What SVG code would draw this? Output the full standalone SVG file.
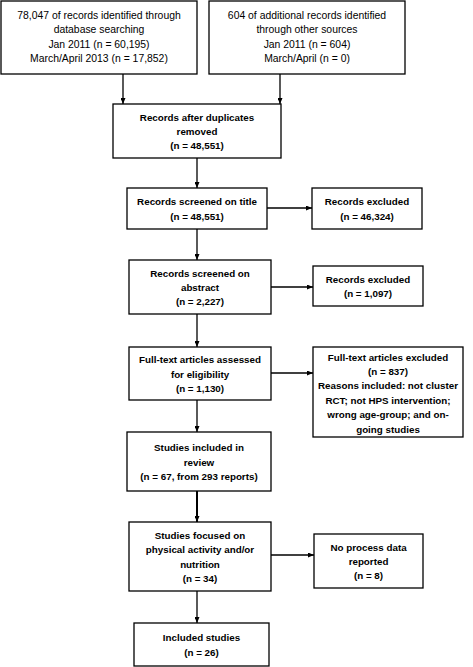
<svg xmlns="http://www.w3.org/2000/svg" width="473" height="667" viewBox="0 0 473 667">
<defs>
<style>
.box{fill:#fff;stroke:#000;stroke-width:1.3}
.t{font-family:"Liberation Sans",Arial,sans-serif;font-size:10.4px;text-anchor:middle;fill:#000}
.b{font-weight:bold;font-size:9.8px}
.c{stroke:#000;stroke-width:1.3;fill:none;marker-end:url(#ah)}
</style>
<marker id="ah" viewBox="0 0 8 8" refX="8" refY="4" markerWidth="6" markerHeight="5" markerUnits="userSpaceOnUse" orient="auto" preserveAspectRatio="none">
<path d="M0,0 L8,4 L0,8 z" fill="#000"/>
</marker>
</defs>
<rect width="473" height="667" fill="#fff"/>
<g id="connectors">
<line class="c" x1="123" y1="74" x2="123" y2="104"/>
<line class="c" x1="280" y1="74" x2="280" y2="104"/>
<line class="c" x1="197" y1="158" x2="197" y2="188"/>
<line class="c" x1="267" y1="208" x2="312" y2="208"/>
<line class="c" x1="197" y1="229" x2="197" y2="260"/>
<line class="c" x1="271" y1="287" x2="313" y2="287"/>
<line class="c" x1="197" y1="314" x2="197" y2="347"/>
<line class="c" x1="271" y1="373" x2="313" y2="373"/>
<line class="c" x1="197" y1="400" x2="197" y2="432"/>
<line class="c" x1="197" y1="491" x2="197" y2="522" style="stroke-width:2"/>
<line class="c" x1="271" y1="555" x2="314" y2="555"/>
<line class="c" x1="197" y1="591" x2="197" y2="623"/>
</g>
<g id="n1">
<rect class="box" x="1" y="1" width="196" height="73"/>
<text class="t" x="99" y="19">78,047 of records identified through</text>
<text class="t" x="99" y="33.4">database searching</text>
<text class="t" x="99" y="47.8">Jan 2011 (n = 60,195)</text>
<text class="t" x="99" y="62.2">March/April 2013  (n = 17,852)</text>
</g>
<g id="n2">
<rect class="box" x="209" y="1" width="196" height="73"/>
<text class="t" x="307" y="19">604 of additional records identified</text>
<text class="t" x="307" y="33.4">through other sources</text>
<text class="t" x="307" y="47.8">Jan 2011 (n = 604)</text>
<text class="t" x="307" y="62.2">March/April (n = 0)</text>
</g>
<g id="n3">
<rect class="box" x="113" y="104" width="168" height="54"/>
<text class="t b" x="197" y="120.6">Records after duplicates</text>
<text class="t b" x="197" y="135">removed</text>
<text class="t b" x="197" y="149.4">(n = 48,551)</text>
</g>
<g id="n4">
<rect class="box" x="127" y="188" width="140" height="41"/>
<text class="t b" x="197" y="205.3">Records screened on title</text>
<text class="t b" x="197" y="219.7">(n = 48,551)</text>
</g>
<g id="n4r">
<rect class="box" x="312" y="188" width="110" height="41"/>
<text class="t b" x="367" y="205.3">Records excluded</text>
<text class="t b" x="367" y="219.7">(n = 46,324)</text>
</g>
<g id="n5">
<rect class="box" x="129" y="260" width="142" height="54"/>
<text class="t b" x="200" y="276.6">Records screened on</text>
<text class="t b" x="200" y="291">abstract</text>
<text class="t b" x="200" y="305.4">(n = 2,227)</text>
</g>
<g id="n5r">
<rect class="box" x="313" y="266" width="110" height="40"/>
<text class="t b" x="368" y="282.8">Records excluded</text>
<text class="t b" x="368" y="297.2">(n = 1,097)</text>
</g>
<g id="n6">
<rect class="box" x="129" y="347" width="142" height="53"/>
<text class="t b" x="200" y="363.1">Full-text articles assessed</text>
<text class="t b" x="200" y="377.5">for eligibility</text>
<text class="t b" x="200" y="391.9">(n = 1,130)</text>
</g>
<g id="n6r">
<rect class="box" x="313" y="347" width="150" height="90"/>
<text class="t b" x="388" y="360.5">Full-text articles excluded</text>
<text class="t b" x="388" y="374.9">(n = 837)</text>
<text class="t b" x="388" y="389.3">Reasons included: not cluster</text>
<text class="t b" x="388" y="403.7">RCT; not HPS intervention;</text>
<text class="t b" x="388" y="418.1">wrong age-group; and on-</text>
<text class="t b" x="388" y="432.5">going studies</text>
</g>
<g id="n7">
<rect class="box" x="127" y="432" width="144" height="59"/>
<text class="t b" x="199" y="451.1">Studies included in</text>
<text class="t b" x="199" y="465.5">review</text>
<text class="t b" x="199" y="479.9">(n = 67, from 293 reports)</text>
</g>
<g id="n8">
<rect class="box" x="129" y="522" width="142" height="69"/>
<text class="t b" x="200" y="538.9">Studies focused on</text>
<text class="t b" x="200" y="553.3">physical activity and/or</text>
<text class="t b" x="200" y="567.7">nutrition</text>
<text class="t b" x="200" y="582.1">(n = 34)</text>
</g>
<g id="n8r">
<rect class="box" x="314" y="534" width="109" height="54"/>
<text class="t b" x="368.5" y="550.6">No process data</text>
<text class="t b" x="368.5" y="565">reported</text>
<text class="t b" x="368.5" y="579.4">(n = 8)</text>
</g>
<g id="n9">
<rect class="box" x="134" y="623" width="135" height="43"/>
<text class="t b" x="201.5" y="641.3">Included studies</text>
<text class="t b" x="201.5" y="655.7">(n = 26)</text>
</g>
</svg>
